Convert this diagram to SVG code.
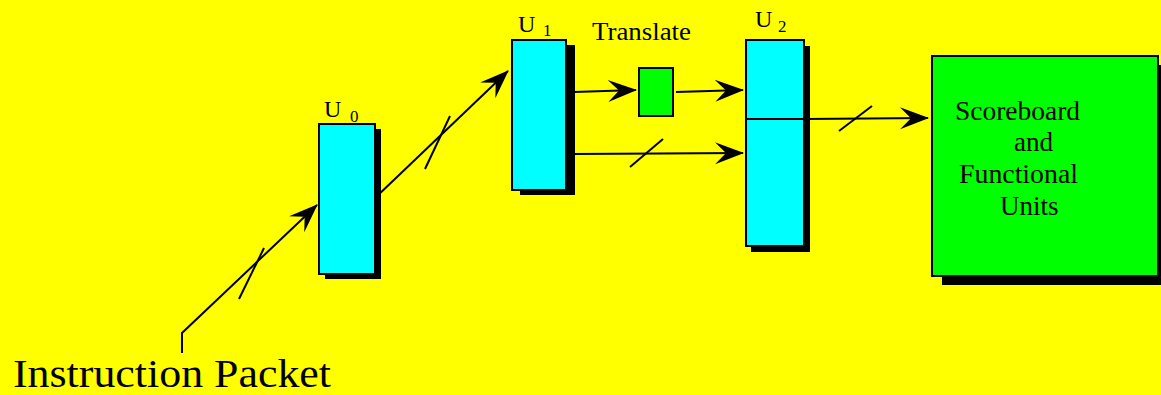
<svg xmlns="http://www.w3.org/2000/svg" width="1161" height="395" viewBox="0 0 1161 395">
<style>
.box{stroke:#000;stroke-width:2}
.cyan{fill:#00ffff}
.green{fill:#00ff00}
.shadow{fill:#000}
.ln{fill:none;stroke:#000;stroke-width:2}
.t{font-family:"Liberation Serif","Times New Roman",serif;fill:#000}
</style>
<defs>
<marker id="arr" markerUnits="userSpaceOnUse" markerWidth="34" markerHeight="28" viewBox="-30 -14 34 28" refX="0" refY="0" orient="auto">
<path d="M1,0 L-28,-11 L-17,0 L-28,11 Z" fill="#000"/>
</marker>
</defs>
<rect width="1161" height="395" fill="#ffff00"/>

<g id="u0">
<rect class="shadow" x="325" y="129" width="56" height="150"/>
<rect class="box cyan" x="319" y="124" width="56" height="150"/>
<text class="t" x="324" y="117" font-size="24">U</text>
<text class="t" x="350" y="122" font-size="17">0</text>
</g>

<g id="u1">
<rect class="shadow" x="520" y="45" width="55" height="150"/>
<rect class="box cyan" x="512" y="40" width="54" height="150"/>
<text class="t" x="518" y="32" font-size="24">U</text>
<text class="t" x="543" y="36" font-size="17">1</text>
</g>

<g id="translate">
<rect class="box green" x="639" y="68" width="34" height="48"/>
<text class="t" x="592" y="40" font-size="26" textLength="99" lengthAdjust="spacingAndGlyphs">Translate</text>
</g>

<g id="u2">
<rect class="shadow" x="751" y="46" width="59" height="206"/>
<rect class="box cyan" x="746" y="40" width="58" height="206"/>
<line class="ln" x1="746" y1="119" x2="804" y2="119"/>
<text class="t" x="755" y="27" font-size="24">U</text>
<text class="t" x="778" y="32" font-size="17">2</text>
</g>

<g id="scoreboard">
<rect class="shadow" x="942" y="65" width="225" height="220"/>
<rect class="box green" x="932" y="56" width="226" height="220"/>
<text class="t" x="955" y="120" font-size="27" textLength="125" lengthAdjust="spacingAndGlyphs">Scoreboard</text>
<text class="t" x="1014" y="151" font-size="27">and</text>
<text class="t" x="959" y="183" font-size="27" textLength="119" lengthAdjust="spacingAndGlyphs">Functional</text>
<text class="t" x="1000" y="215" font-size="27">Units</text>
</g>

<g id="instruction-packet">
<text class="t" x="13" y="387" font-size="40" textLength="318" lengthAdjust="spacingAndGlyphs">Instruction Packet</text>
</g>

<g id="connectors">
<polyline class="ln" points="182,353 182,333 317,205" marker-end="url(#arr)"/>
<line class="ln" x1="239" y1="299" x2="264" y2="248"/>
<line class="ln" x1="375" y1="198" x2="508" y2="71" marker-end="url(#arr)"/>
<line class="ln" x1="425" y1="169" x2="450" y2="116"/>
<line class="ln" x1="574" y1="92" x2="636" y2="90" marker-end="url(#arr)"/>
<line class="ln" x1="676" y1="92" x2="743" y2="90" marker-end="url(#arr)"/>
<line class="ln" x1="574" y1="154" x2="743" y2="153" marker-end="url(#arr)"/>
<line class="ln" x1="630" y1="167" x2="663" y2="139"/>
<line class="ln" x1="804" y1="119" x2="928" y2="118" marker-end="url(#arr)"/>
<line class="ln" x1="839" y1="131" x2="872" y2="106"/>
</g>
</svg>
